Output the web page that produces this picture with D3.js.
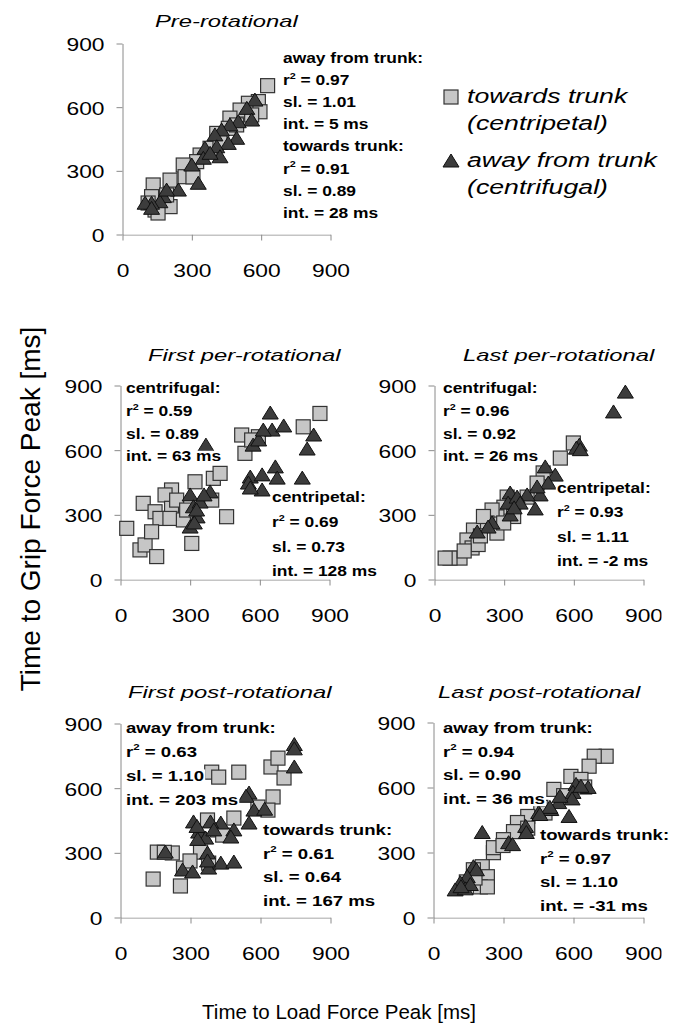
<!DOCTYPE html>
<html>
<head>
<meta charset="utf-8">
<script src="https://cdn.jsdelivr.net/npm/d3@7"></script>
<style>
body { margin: 0; background: #fff; }
text { font-family: "Liberation Sans", Arial, sans-serif; }
</style>
</head>
<body>
<svg id="chart"></svg>
<script>
var W = 678, H = 1031;
var tickVals = [0, 300, 600, 900];
var panelTitles = ['Pre-rotational', 'First per-rotational', 'Last per-rotational',
                   'First post-rotational', 'Last post-rotational'];
var legendLabels = [['towards trunk', '(centripetal)'], ['away from trunk', '(centrifugal)']];
var yTitle = 'Time to Grip Force Peak [ms]';
var xTitle = 'Time to Load Force Peak [ms]';

// squares = towards trunk (centripetal), triangles = away from trunk (centrifugal)
var sqPre = [[630,699],[590,624],[547,616],[511,584],[467,546],[460,498],[410,474],[381,404],[338,372],
  [323,341],[265,325],[273,270],[208,254],[135,231],[128,176],[143,113],[208,129],[193,184],[113,146],
  [156,99],[307,269],[597,576],[561,561],[496,514],[424,435]];
var triPre = [[575,631],[540,592],[561,537],[503,529],[467,514],[431,490],[402,467],[496,451],[460,427],
  [410,411],[359,404],[424,364],[352,357],[302,325],[330,239],[244,207],[179,176],[164,152],[128,145],
  [100,145],[128,121],[193,207],[381,380]];

var sqFirstPer = [[29,235],[100,351],[151,312],[222,413],[194,390],[172,281],[86,135],[108,158],[158,104],
  [222,328],[215,281],[244,366],[273,274],[309,165],[323,451],[402,467],[431,490],[395,366],[459,289],
  [524,668],[538,583],[596,660],[789,706],[861,768],[136,219],[287,320],[567,645]];
var triFirstPer = [[370,621],[302,390],[316,335],[332,288],[302,241],[345,357],[388,404],[362,390],
  [573,621],[597,645],[647,770],[655,691],[705,710],[617,691],[834,668],[806,603],[561,473],[553,445],
  [612,483],[612,413],[669,520],[677,468],[785,468],[561,422],[330,320],[320,260]];

var sqLastPer = [[600,631],[544,561],[470,492],[444,445],[401,380],[315,380],[301,333],[271,288],[250,320],
  [228,260],[170,227],[142,181],[164,144],[112,97],[69,97],[48,97],[190,160],[271,213],[343,290],
  [213,290],[130,130],[200,200],[300,260]];
var triLastPer = [[824,867],[773,775],[626,621],[613,607],[479,520],[522,482],[492,445],[457,390],
  [444,427],[401,390],[436,325],[328,399],[319,352],[358,380],[371,352],[328,297],[250,260],[233,241],
  [186,218],[630,600],[345,330]];

var sqFirstPost = [[142,176],[259,144],[160,301],[224,297],[272,227],[345,301],[393,672],[423,649],
  [509,672],[647,696],[677,737],[703,645],[656,557],[634,496],[591,510],[488,459],[418,404],[375,450],
  [380,250],[190,300],[300,260],[440,380]];
var triFirstPost = [[747,800],[747,780],[747,696],[553,575],[574,496],[553,436],[488,404],[475,371],
  [432,436],[388,441],[315,441],[337,394],[367,366],[333,360],[375,297],[402,404],[194,301],[268,218],
  [311,209],[380,227],[432,250],[488,255],[375,260],[540,560],[620,500],[330,420]];

var sqLastPost = [[742,742],[691,742],[669,696],[591,649],[634,635],[518,589],[462,506],[406,464],
  [362,436],[345,394],[302,357],[259,297],[259,320],[211,232],[173,218],[233,186],[203,139],[233,139],
  [143,162],[406,410],[650,600],[560,560],[480,480],[300,330],[180,180]];
var triLastPost = [[211,390],[324,343],[397,418],[453,482],[505,496],[539,528],[583,464],[613,612],
  [665,598],[600,575],[596,545],[634,603],[173,232],[186,218],[147,186],[117,158],[95,125],[138,130],
  [544,557],[501,506],[458,473],[341,334],[400,390],[160,150],[120,140]];

var notesPre = ['away from trunk:', 'r2 = 0.97', 'sl. = 1.01', 'int. = 5 ms',
                'towards trunk:', 'r2 = 0.91', 'sl. = 0.89', 'int. = 28 ms'];
var notesFirstPerA = ['centrifugal:', 'r2 = 0.59', 'sl. = 0.89', 'int. = 63 ms'];
var notesFirstPerB = ['centripetal:', 'r2 = 0.69', 'sl. = 0.73', 'int. = 128 ms'];
var notesLastPerA = ['centrifugal:', 'r2 = 0.96', 'sl. = 0.92', 'int. = 26 ms'];
var notesLastPerB = ['centripetal:', 'r2 = 0.93', 'sl. = 1.11', 'int. = -2 ms'];
var notesFirstPostA = ['away from trunk:', 'r2 = 0.63', 'sl. = 1.10', 'int. = 203 ms'];
var notesFirstPostB = ['towards trunk:', 'r2 = 0.61', 'sl. = 0.64', 'int. = 167 ms'];
var notesLastPostA = ['away from trunk:', 'r2 = 0.94', 'sl. = 0.90', 'int. = 36 ms'];
var notesLastPostB = ['towards trunk:', 'r2 = 0.97', 'sl. = 1.10', 'int. = -31 ms'];

var svg = d3.select('#chart').attr('width', W).attr('height', H);
svg.append('clipPath').attr('id', 'edge')
  .append('rect').attr('x', 0).attr('y', 0).attr('width', 661).attr('height', H);

var panels = [
  {title: panelTitles[0], tx: 155, ty: 27, x0: 122, x1: 330, y0: 234, y1: 43, sq: sqPre, tri: triPre,
   notes: [{lines: notesPre, x: 283, y: 63, dy: 22.1, size: 14.5}]},
  {title: panelTitles[1], tx: 148, ty: 361, x0: 120, x1: 329, y0: 579, y1: 385, sq: sqFirstPer, tri: triFirstPer,
   notes: [{lines: notesFirstPerA, x: 126, y: 393, dy: 22.8, size: 14.5},
           {lines: notesFirstPerB, x: 272, y: 502, dy: 24.8, size: 14.5}]},
  {title: panelTitles[2], tx: 463, ty: 361, x0: 434, x1: 643, y0: 579, y1: 385, sq: sqLastPer, tri: triLastPer,
   notes: [{lines: notesLastPerA, x: 443, y: 393, dy: 22.8, size: 14.5},
           {lines: notesLastPerB, x: 557, y: 493, dy: 24.3, size: 14.5}]},
  {title: panelTitles[3], tx: 128, ty: 698, x0: 120, x1: 330, y0: 917, y1: 723, sq: sqFirstPost, tri: triFirstPost,
   notes: [{lines: notesFirstPostA, x: 126, y: 733, dy: 24, size: 15.5},
           {lines: notesFirstPostB, x: 263, y: 835, dy: 23.5, size: 15.5}]},
  {title: panelTitles[4], tx: 438, ty: 698, x0: 433, x1: 643, y0: 917, y1: 722, sq: sqLastPost, tri: triLastPost,
   notes: [{lines: notesLastPostA, x: 443, y: 733, dy: 23.5, size: 15.5},
           {lines: notesLastPostB, x: 540, y: 840, dy: 23.5, size: 15.5}]}
];

var sqSize = 14;
var triPath = 'M0,-7L8,6L-8,6Z';

function noteBlock(g, n) {
  n.lines.forEach(function (t, i) {
    var row = g.append('g')
      .attr('transform', 'translate(' + n.x + ',' + (n.y + i * n.dy) + ') scale(1.2,1)');
    var txt = row.append('text')
      .style('font-weight', 'bold').style('font-size', n.size + 'px').attr('fill', '#000');
    if (t.indexOf('r2') === 0) {
      txt.append('tspan').text('r');
      txt.append('tspan').attr('dy', -n.size * 0.42).style('font-size', (n.size * 0.62) + 'px').text('2');
      txt.append('tspan').attr('dy', n.size * 0.42).text(t.slice(2));
    } else {
      txt.text(t);
    }
    var bb = txt.node().getBBox();
    row.insert('rect', 'text')
      .attr('x', bb.x - 1).attr('y', bb.y + 2)
      .attr('width', bb.width + 2).attr('height', bb.height - 3)
      .attr('fill', '#fff');
  });
}

panels.forEach(function (p) {
  var x = d3.scaleLinear().domain([0, 900]).range([p.x0, p.x1]);
  var y = d3.scaleLinear().domain([0, 900]).range([p.y0, p.y1]);
  var g = svg.append('g');

  // title
  g.append('text')
    .attr('transform', 'translate(' + p.tx + ',' + p.ty + ') scale(1.4,1)')
    .style('font-size', '17px').style('font-style', 'italic')
    .text(p.title);

  // axes
  var ya = g.append('g').attr('transform', 'translate(' + (p.x0 + 0.5) + ',0.5)')
    .call(d3.axisLeft(y).tickValues(tickVals).tickSize(6).tickSizeOuter(0));
  var xa = g.append('g').attr('transform', 'translate(0.5,' + (p.y0 + 0.5) + ')')
    .attr('clip-path', 'url(#edge)')
    .call(d3.axisBottom(x).tickValues(tickVals).tickSize(6).tickSizeOuter(0));
  [ya, xa].forEach(function (a) {
    a.select('.domain').attr('stroke', '#8a8a8a');
    a.selectAll('.tick line').attr('stroke', '#8a8a8a');
    a.selectAll('.tick text').attr('fill', '#000').style('font-size', '19px');
  });
  ya.selectAll('.tick text').attr('x', null).attr('dy', '0.36em')
    .attr('transform', 'translate(-18,0) scale(1.2,1)');
  xa.selectAll('.tick text').attr('y', null).attr('dy', null)
    .attr('transform', 'translate(0,42) scale(1.2,1)');

  // points: squares first, triangles on top
  g.append('g').selectAll('rect').data(p.sq).enter().append('rect')
    .attr('x', function (d) { return x(d[0]) - sqSize / 2; })
    .attr('y', function (d) { return y(d[1]) - sqSize / 2; })
    .attr('width', sqSize).attr('height', sqSize)
    .attr('fill', '#c6c6c6').attr('stroke', '#333').attr('stroke-width', 1.2);
  g.append('g').selectAll('path').data(p.tri).enter().append('path')
    .attr('transform', function (d) { return 'translate(' + x(d[0]) + ',' + y(d[1]) + ')'; })
    .attr('d', triPath)
    .attr('fill', '#3c3c3c').attr('stroke', '#111').attr('stroke-width', 1);

  p.notes.forEach(function (n) { noteBlock(g, n); });
});

// legend
var leg = svg.append('g');
leg.append('rect').attr('x', 444).attr('y', 90).attr('width', 14).attr('height', 14)
  .attr('fill', '#c6c6c6').attr('stroke', '#333').attr('stroke-width', 1.2);
leg.append('path').attr('transform', 'translate(451,161)').attr('d', triPath)
  .attr('fill', '#3c3c3c').attr('stroke', '#111');
var legY = [[103, 130], [167, 194]];
legendLabels.forEach(function (pair, i) {
  pair.forEach(function (t, j) {
    leg.append('text')
      .attr('transform', 'translate(467,' + legY[i][j] + ') scale(1.37,1)')
      .style('font-size', '19.5px').style('font-style', 'italic')
      .text(t);
  });
});

// axis titles
svg.append('text')
  .attr('transform', 'translate(40,509) rotate(-90)')
  .attr('text-anchor', 'middle')
  .style('font-size', '28px')
  .text(yTitle);
svg.append('text')
  .attr('transform', 'translate(339,1019)')
  .attr('text-anchor', 'middle')
  .style('font-size', '20.5px')
  .text(xTitle);
</script>
</body>
</html>
